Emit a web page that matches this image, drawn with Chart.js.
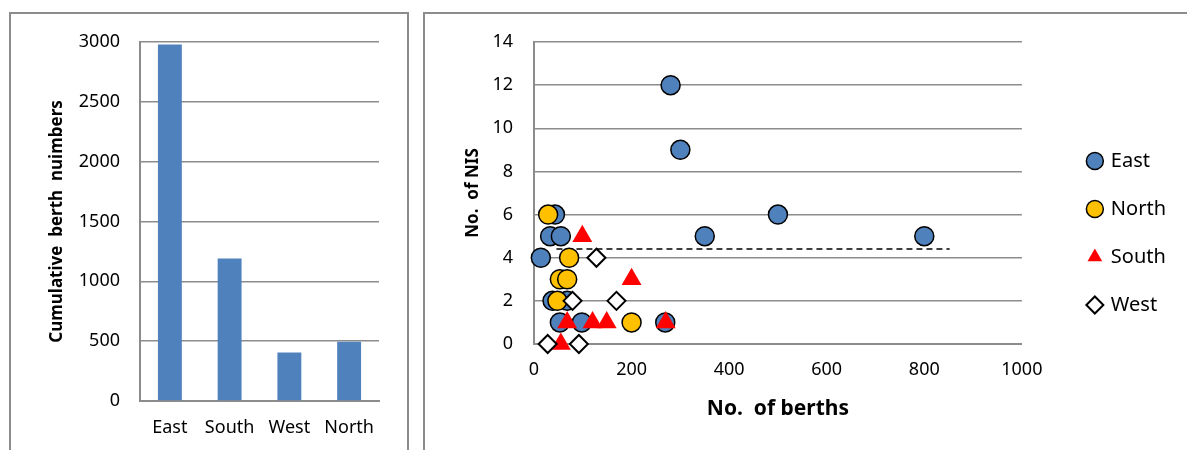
<!DOCTYPE html>
<html>
<head>
<meta charset="utf-8">
<script src="https://cdn.jsdelivr.net/npm/chart.js@4.4.1/dist/chart.umd.min.js"></script>
<style>
  html, body { margin: 0; padding: 0; background: #fff; overflow: hidden; }
  body { width: 1187px; height: 450px; position: relative; }
  .frame { position: absolute; border: 2px solid #8c8c8c; box-sizing: border-box; }
  .holder { position: absolute; }
</style>
</head>
<body>
<div class="frame" style="left:9px; top:12px; width:400px; height:480px;"></div>
<div class="frame" style="left:423px; top:12px; width:800px; height:480px;"></div>
<div class="holder" style="left:12px; top:14px; width:390px; height:436px;"><canvas id="chartBerths"></canvas></div>
<div class="holder" style="left:426px; top:14px; width:761px; height:436px;"><canvas id="chartNis"></canvas></div>
<script>
// bar chart: cumulative berths per region
const regions = ['East', 'South', 'West', 'North'];
const berthTotals = [2980, 1190, 405, 495];
const berthTicks = [0, 500, 1000, 1500, 2000, 2500, 3000];

// scatter: berths vs NIS per port
const eastX = [14, 33, 55, 43, 38, 68, 53, 98, 269, 280, 300, 350, 500, 800];
const eastY = [4, 5, 5, 6, 2, 2, 1, 1, 1, 12, 9, 5, 6, 5];
const northX = [29, 72, 53, 68, 48, 200];
const northY = [6, 4, 3, 3, 2, 1];
const southX = [99, 200, 68, 120, 149, 270, 55];
const southY = [5, 3, 1, 1, 1, 1, 0];
const westX = [128, 79, 169, 28, 92];
const westY = [4, 2, 2, 0, 0];
const meanX = [46, 852];
const meanY = [4.4, 4.4];
const nisTicks = [0, 2, 4, 6, 8, 10, 12, 14];
const berthAxisTicks = [0, 200, 400, 600, 800, 1000];

const GRID = '#8c8c8c';
Chart.defaults.font.family = "'Noto Sans', sans-serif";
Chart.defaults.color = '#000';

function toPoints(xs, ys) {
    return xs.map((x, i) => ({ x, y: ys[i] }));
}

const plain = (v) => String(v);

new Chart(document.getElementById('chartBerths'), {
    type: 'bar',
    data: {
        labels: regions,
        datasets: [{
            data: berthTotals,
            backgroundColor: '#4F81BD',
            categoryPercentage: 1,
            barPercentage: 0.4
        }]
    },
    options: {
        responsive: true,
        maintainAspectRatio: false,
        animation: false,
        layout: { padding: { top: 28, right: 23, left: 0, bottom: 0 } },
        plugins: { legend: { display: false }, tooltip: { enabled: false } },
        scales: {
            x: {
                grid: { display: false, drawTicks: false },
                border: { color: GRID, width: 2 },
                ticks: { font: { size: 18 }, padding: 16 },
                afterFit: (s) => { s.height = 49; }
            },
            y: {
                min: 0,
                max: 3000,
                afterBuildTicks: (s) => { s.ticks = berthTicks.map(v => ({ value: v })); },
                // invisible tick marks give the label gap without padding the chart top
                grid: { color: GRID, lineWidth: 1.5, tickLength: 20, tickColor: 'rgba(0,0,0,0)' },
                border: { color: GRID, width: 2 },
                ticks: { font: { size: 18 }, padding: 0, callback: plain },
                title: {
                    display: true,
                    text: 'Cumulative  berth  nuimbers',
                    font: { size: 17, weight: 'bold' },
                    padding: { top: 35, bottom: 0 }
                },
                afterFit: (s) => { s.width = 128; }
            }
        }
    }
});

new Chart(document.getElementById('chartNis'), {
    type: 'scatter',
    data: {
        datasets: [
            {
                label: 'East', data: toPoints(eastX, eastY), order: 4,
                pointStyle: 'circle', pointRadius: 9.5, borderWidth: 1.5,
                backgroundColor: '#4F81BD', borderColor: '#000'
            },
            {
                label: 'North', data: toPoints(northX, northY), order: 3,
                pointStyle: 'circle', pointRadius: 9.5, borderWidth: 1.5,
                backgroundColor: '#FFC000', borderColor: '#000'
            },
            {
                label: 'South', data: toPoints(southX, southY), order: 2,
                pointStyle: 'triangle', pointRadius: 11.5, borderWidth: 0,
                backgroundColor: '#FF0000', borderColor: '#FF0000'
            },
            {
                label: 'West', data: toPoints(westX, westY), order: 1,
                pointStyle: 'rectRot', pointRadius: 9, borderWidth: 2,
                backgroundColor: '#fff', borderColor: '#000'
            },
            {
                label: 'mean', type: 'line', data: toPoints(meanX, meanY), order: 5,
                borderColor: '#000', borderWidth: 1.5, borderDash: [6, 4],
                pointRadius: 0, fill: false
            }
        ]
    },
    options: {
        responsive: true,
        maintainAspectRatio: false,
        animation: false,
        clip: false,
        layout: { padding: { top: 28, right: 11, left: 0, bottom: 26 } },
        plugins: {
            tooltip: { enabled: false },
            legend: {
                position: 'right',
                reverse: true,
                labels: {
                    usePointStyle: true,
                    boxWidth: 12,
                    boxHeight: 12,
                    padding: 28,
                    font: { size: 20 },
                    filter: (item) => item.text !== 'mean'
                }
            }
        },
        scales: {
            x: {
                min: 0,
                max: 1000,
                afterBuildTicks: (s) => { s.ticks = berthAxisTicks.map(v => ({ value: v })); },
                grid: { display: false, drawTicks: false },
                border: { color: GRID, width: 2 },
                ticks: { font: { size: 18 }, padding: 15, callback: plain },
                title: {
                    display: true,
                    text: 'No.  of berths',
                    font: { size: 21, weight: 'bold' },
                    padding: { top: 0, bottom: 2 }
                },
                afterFit: (s) => { s.height = 80; }
            },
            y: {
                min: 0,
                max: 14,
                afterBuildTicks: (s) => { s.ticks = nisTicks.map(v => ({ value: v })); },
                grid: { color: GRID, lineWidth: 1.5, tickLength: 21, tickColor: 'rgba(0,0,0,0)' },
                border: { color: GRID, width: 2 },
                ticks: { font: { size: 18 }, padding: 0, callback: plain },
                title: {
                    display: true,
                    text: 'No.  of NIS',
                    font: { size: 17, weight: 'bold' },
                    padding: { top: 37, bottom: 0 }
                },
                afterFit: (s) => { s.width = 108; }
            },
            gap: {
                // empty axis that only keeps the legend away from the plot
                position: 'right',
                display: true,
                grid: { display: false },
                border: { display: false },
                ticks: { display: false },
                afterFit: (s) => { s.width = 39; }
            }
        }
    }
});
</script>
</body>
</html>
